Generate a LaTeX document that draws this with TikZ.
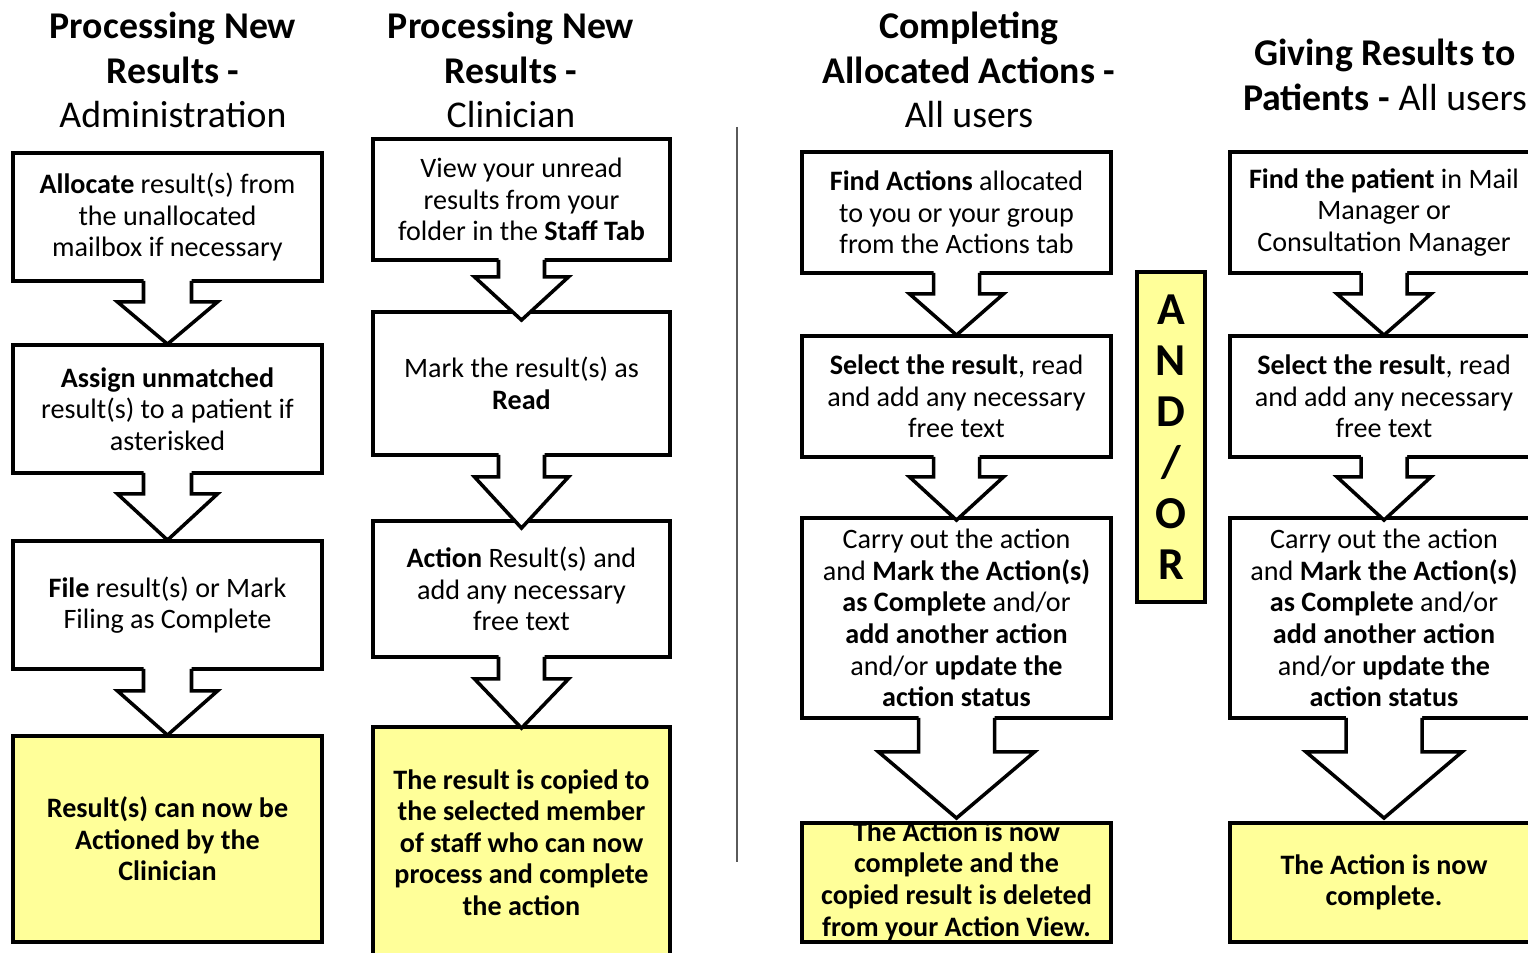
\documentclass[tikz,border=0pt]{standalone}
\usepackage{fontspec}
\setmainfont{Carlito}
\usetikzlibrary{calc}

\definecolor{noteyellow}{HTML}{FFFF99}
\definecolor{rulegray}{HTML}{5A5A5A}

% block arrow from one box down to the next
% #1 upper box, #2 lower box, #3 shaft half width, #4 head half width,
% #5 shoulder depth, #6 how far the tip runs past the lower box top
\newcommand{\blockarrow}[6]{%
  \path (#1.south) coordinate (aTop) (#2.north) coordinate (aEnd);
  \fill[white] ($(aTop)+(-#3,-4)$) -- ($(aTop)+(-#3,#5)$) -- ($(aTop)+(-#4,#5)$)
    -- ($(aEnd)+(0,#6)$) -- ($(aTop)+(#4,#5)$) -- ($(aTop)+(#3,#5)$)
    -- ($(aTop)+(#3,-4)$) -- cycle;
  \draw[arrowline] ($(aTop)+(-#3,-2)$) -- ($(aTop)+(-#3,#5)$) -- ($(aTop)+(-#4,#5)$)
    -- ($(aEnd)+(0,#6)$) -- ($(aTop)+(#4,#5)$) -- ($(aTop)+(#3,#5)$)
    -- ($(aTop)+(#3,-2)$);
}

\begin{document}
\begin{tikzpicture}[x=0.02cm, y=-0.02cm,
  flowbox/.style={draw, line width=2.2pt, fill=white, inner sep=2pt, align=center,
    font=\fontsize{16}{18}\selectfont},
  endbox/.style={flowbox, fill=noteyellow, font=\fontsize{16}{18}\selectfont\bfseries},
  endtext/.style={align=center, inner sep=0pt, font=\fontsize{16}{18}\selectfont\bfseries},
  heading/.style={align=center, font=\fontsize{21.5}{25.5}\selectfont},
  arrowline/.style={line width=2pt, line join=miter},
  ]

  \useasboundingbox (0,0) rectangle (1528,953);
  \clip (0,0) rectangle (1528,953);

  % Headings
  \node[heading] (head1) at (173,70) {\textbf{Processing New}\\\textbf{Results -}\\Administration};
  \node[heading] (head2) at (511,70) {\textbf{Processing New}\\\textbf{Results -}\\Clinician};
  \node[heading] (head3) at (969,70) {\textbf{Completing}\\\textbf{Allocated Actions -}\\All users};
  \node[heading] (head4) at (1385,74.5) {\textbf{Giving Results to}\\\textbf{Patients -} All users};

  % Administration
  \node[flowbox, minimum width=6.18cm, minimum height=2.56cm] (adm1) at (167.5,217)
    {\textbf{Allocate} result(s) from\\the unallocated\\mailbox if necessary};
  \node[flowbox, minimum width=6.18cm, minimum height=2.56cm] (adm2) at (167.5,409)
    {\textbf{Assign unmatched}\\result(s) to a patient if\\asterisked};
  \node[flowbox, minimum width=6.18cm, minimum height=2.56cm] (adm3) at (167.5,605)
    {\textbf{File} result(s) or Mark\\Filing as Complete};
  \node[endbox, minimum width=6.18cm, minimum height=4.12cm] (adm4) at (167.5,839)
    {Result(s) can now be\\Actioned by the\\Clinician};

  % Clinician
  \node[flowbox, minimum width=5.94cm, minimum height=2.42cm] (cli1) at (521.5,199.5)
    {View your unread\\results from your\\folder in the \textbf{Staff Tab}};
  \node[flowbox, minimum width=5.94cm, minimum height=2.86cm] (cli2) at (521.5,383.5)
    {Mark the result(s) as\\\textbf{Read}};
  \node[flowbox, minimum width=5.94cm, minimum height=2.72cm] (cli3) at (521.5,589)
    {\textbf{Action} Result(s) and\\add any necessary\\free text};
  \node[endbox, minimum width=5.94cm, minimum height=4.62cm] (cli4) at (521.5,842.5)
    {The result is copied to\\the selected member\\of staff who can now\\process and complete\\the action};

  % divider
  \draw[rulegray, line width=1.1pt] (737,127) -- (737,862);

  % All users: actions
  \node[flowbox, minimum width=6.18cm, minimum height=2.42cm] (act1) at (956.5,212.5)
    {\textbf{Find Actions} allocated\\to you or your group\\from the Actions tab};
  \node[flowbox, minimum width=6.18cm, minimum height=2.42cm] (act2) at (956.5,396.5)
    {\textbf{Select the result}, read\\and add any necessary\\free text};
  \node[flowbox, minimum width=6.18cm, minimum height=4.0cm] (act3) at (956.5,618)
    {Carry out the action\\and \textbf{Mark the Action(s)}\\\textbf{as Complete} and/or\\\textbf{add another action}\\and/or \textbf{update the}\\\textbf{action status}};
  \node[endbox, minimum width=6.18cm, minimum height=2.38cm] (act4) at (956.5,882.5) {};
  \node[endtext] (act4t) at (956.5,881)
    {The Action is now\\complete and the\\copied result is deleted\\from your Action View.};

  % AND/OR
  \node[endbox, minimum width=1.36cm, minimum height=6.6cm,
    font=\fontsize{26}{29}\selectfont\bfseries] (andor) at (1171,437) {A\\N\\D\\/\\O\\R};

  % All users: patients
  \node[flowbox, minimum width=6.16cm, minimum height=2.42cm] (pat1) at (1384,212.5)
    {\textbf{Find the patient} in Mail\\Manager or\\Consultation Manager};
  \node[flowbox, minimum width=6.16cm, minimum height=2.42cm] (pat2) at (1384,396.5)
    {\textbf{Select the result}, read\\and add any necessary\\free text};
  \node[flowbox, minimum width=6.16cm, minimum height=4.0cm] (pat3) at (1384,618)
    {Carry out the action\\and \textbf{Mark the Action(s)}\\\textbf{as Complete} and/or\\\textbf{add another action}\\and/or \textbf{update the}\\\textbf{action status}};
  \node[endbox, minimum width=6.16cm, minimum height=2.38cm] (pat4) at (1384,882.5)
    {The Action is now\\complete.};

  % Arrows
  \blockarrow{adm1}{adm2}{24}{50}{19}{1}
  \blockarrow{adm2}{adm3}{24}{50}{19}{1}
  \blockarrow{adm3}{adm4}{24}{50}{20}{1}

  \blockarrow{cli1}{cli2}{23}{47}{15}{10}
  \blockarrow{cli2}{cli3}{23}{47}{20}{9}
  \blockarrow{cli3}{cli4}{23}{47}{20}{3}

  \blockarrow{act1}{act2}{23}{47}{19}{1}
  \blockarrow{act2}{act3}{23}{47}{18}{4}
  \blockarrow{act3}{act4}{38}{78}{32}{-3}

  \blockarrow{pat1}{pat2}{23}{47}{19}{1}
  \blockarrow{pat2}{pat3}{23}{47}{18}{4}
  \blockarrow{pat3}{pat4}{38}{78}{32}{-3}

\end{tikzpicture}
\end{document}
